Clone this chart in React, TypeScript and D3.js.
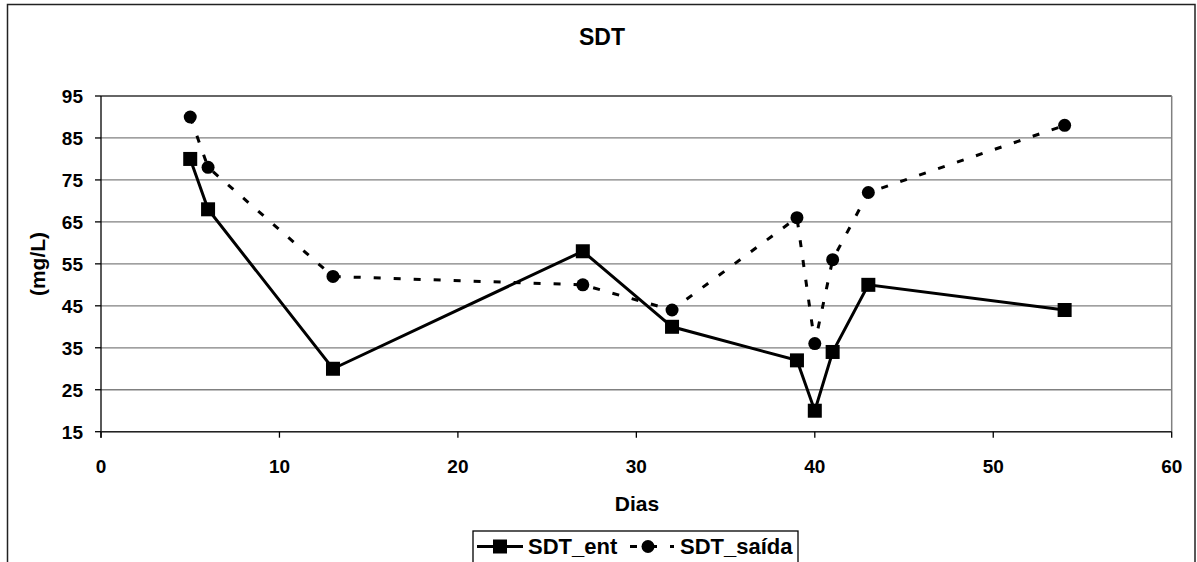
import React from "react";
import * as d3 from "d3";

const days = [5, 6, 13, 27, 32, 39, 40, 41, 43, 54];
const sdtEnt = [80, 68, 30, 58, 40, 32, 20, 34, 50, 44];
const sdtSaida = [90, 78, 52, 50, 44, 66, 36, 56, 72, 88];
const yTicks = [15, 25, 35, 45, 55, 65, 75, 85, 95];
const xTicks = [0, 10, 20, 30, 40, 50, 60];

const W = 1197;
const H = 562;
const left = 101, right = 1171.7, top = 96, bottom = 431.7;
const FONT = "Arial, 'Liberation Sans', sans-serif";

export default function App() {
  const x = d3.scaleLinear().domain([0, 60]).range([left, right]);
  const y = d3.scaleLinear().domain([15, 95]).range([bottom, top]);
  const line = d3.line<number>().x((_, i) => x(days[i])).y((v) => y(v));

  return (
    <svg width={W} height={H} style={{ position: "absolute", left: 0, top: 0, background: "#fff" }} fontFamily={FONT}>
      <rect x={7.5} y={4.5} width={1187.5} height={620} fill="#fff" stroke="#222" strokeWidth={1.5} />
      <text x={602} y={45} textAnchor="middle" fontWeight="bold" fontSize={23}>SDT</text>
      {/* gridlines */}
      {yTicks.map((t) => (
        <line key={"g" + t} x1={left} x2={right} y1={y(t)} y2={y(t)} stroke={t === 95 ? "#333" : "#808080"} strokeWidth={1.3} />
      ))}
      <line x1={right} x2={right} y1={top} y2={bottom} stroke="#808080" strokeWidth={1.5} />
      {/* axes */}
      <line x1={left} x2={left} y1={top} y2={bottom + 6} stroke="#000" strokeWidth={1.3} />
      <line x1={left} x2={right} y1={bottom} y2={bottom} stroke="#222" strokeWidth={1.5} />
      {yTicks.map((t) => (
        <g key={"y" + t}>
          <line x1={left - 6} x2={left} y1={y(t)} y2={y(t)} stroke="#000" strokeWidth={1.3} />
          <text x={83} y={y(t) + 7} textAnchor="end" fontWeight="bold" fontSize={19}>{t}</text>
        </g>
      ))}
      {xTicks.map((t) => (
        <g key={"x" + t}>
          <line x1={x(t)} x2={x(t)} y1={bottom} y2={bottom + 6} stroke="#000" strokeWidth={1.3} />
          <text x={x(t)} y={472.5} textAnchor="middle" fontWeight="bold" fontSize={19}>{t}</text>
        </g>
      ))}
      <text x={637} y={511} textAnchor="middle" fontWeight="bold" fontSize={21}>Dias</text>
      <text transform="translate(45,264) rotate(-90)" textAnchor="middle" fontWeight="bold" fontSize={21}>(mg/L)</text>
      {/* series */}
      <path d={line(sdtSaida) || ""} fill="none" stroke="#000" strokeWidth={3} strokeDasharray="7,13" />
      <path d={line(sdtEnt) || ""} fill="none" stroke="#000" strokeWidth={3} />
      {sdtSaida.map((v, i) => (
        <circle key={"c" + i} cx={x(days[i])} cy={y(v)} r={6.5} fill="#000" />
      ))}
      {sdtEnt.map((v, i) => (
        <rect key={"s" + i} x={x(days[i]) - 7} y={y(v) - 7} width={14} height={14} fill="#000" />
      ))}
      {/* legend */}
      <rect x={473} y={531} width={325} height={40} fill="#fff" stroke="#000" strokeWidth={1.3} />
      <line x1={477} x2={523} y1={546.5} y2={546.5} stroke="#000" strokeWidth={3} />
      <rect x={493} y={539.5} width={14} height={14} fill="#000" />
      <text x={528} y={554} fontWeight="bold" fontSize={22}>SDT_ent</text>
      <line x1={630} x2={674} y1={546.5} y2={546.5} stroke="#000" strokeWidth={3} strokeDasharray="7,13" />
      <circle cx={648} cy={546.5} r={6.5} fill="#000" />
      <text x={680} y={554} fontWeight="bold" fontSize={22}>SDT_saída</text>
    </svg>
  );
}
